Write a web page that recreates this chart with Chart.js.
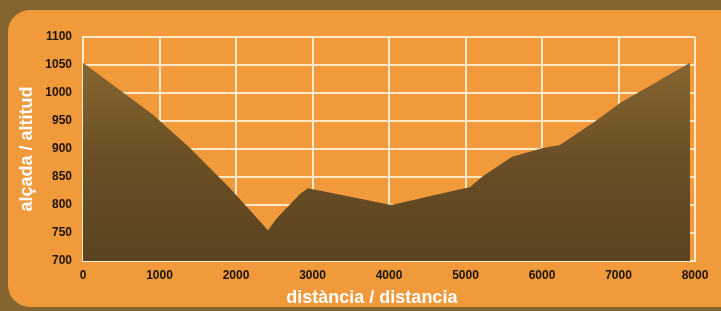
<!DOCTYPE html>
<html>
<head>
<meta charset="utf-8">
<script src="https://cdn.jsdelivr.net/npm/chart.js@4"></script>
<style>
    html, body { margin: 0; padding: 0; background: #85652f; }
    #frame {
        position: absolute; left: 8px; top: 10px; width: 740px; height: 297px;
        background: #f19a3c; border-radius: 22px;
    }
    #wrap { position: absolute; left: 0; top: 0; width: 721px; height: 311px; }
</style>
</head>
<body>
<div id="frame"></div>
<div id="wrap"><canvas id="profileChart" width="721" height="311"></canvas></div>
<script>
// perfil: distància (m) i alçada (m)
var distances = [0, 444, 915, 1399, 1922, 2418, 2536, 2840, 2941, 4030, 5060, 5230, 5608, 6013, 6235, 6719, 7020, 7935];
var altitudes = [1054, 1009, 961, 902, 830, 755, 777, 820, 830, 800, 832, 852, 886, 902, 907, 952, 982, 1054];
var xTicks = [0, 1000, 2000, 3000, 4000, 5000, 6000, 7000, 8000];
var yTicks = [700, 750, 800, 850, 900, 950, 1000, 1050, 1100];

var points = distances.map(function (d, i) {
    return { x: d, y: altitudes[i] };
});

var tickFont = { family: 'Liberation Sans', size: 12, weight: 'bold' };
var titleFont = { family: 'Liberation Sans', size: 18, weight: 'bold' };
var gridColor = 'rgba(255, 236, 205, 0.95)';

// el títol de l'eix X no està centrat sobre l'àrea del gràfic a l'original
var xTitlePlugin = {
    id: 'xTitle',
    afterDraw: function (chart) {
        var c = chart.ctx;
        var area = chart.chartArea;
        c.save();
        c.font = 'bold 18px "Liberation Sans"';
        c.fillStyle = '#ffffff';
        c.textAlign = 'center';
        c.textBaseline = 'middle';
        c.fillText('distància / distancia', area.left + (area.right - area.left) * 0.472, 298);
        c.restore();
    }
};

var ctx = document.getElementById('profileChart').getContext('2d');
new Chart(ctx, {
    type: 'line',
    data: {
        datasets: [{
            data: points,
            borderWidth: 0,
            pointRadius: 0,
            tension: 0,
            fill: 'start',
            backgroundColor: function (context) {
                var area = context.chart.chartArea;
                if (!area) {
                    return '#6b5026';
                }
                var g = context.chart.ctx.createLinearGradient(0, area.top, 0, area.bottom);
                g.addColorStop(0, '#8e6b33');
                g.addColorStop(0.55, '#6a4f25');
                g.addColorStop(1, '#5a4320');
                return g;
            }
        }]
    },
    options: {
        responsive: false,
        animation: false,
        layout: { padding: { left: 16, right: 26, top: 37, bottom: 2 } },
        plugins: {
            legend: { display: false },
            tooltip: { enabled: false }
        },
        scales: {
            x: {
                type: 'linear',
                min: 0,
                max: 8000,
                afterBuildTicks: function (scale) {
                    scale.ticks = xTicks.map(function (v) { return { value: v }; });
                },
                afterFit: function (scale) { scale.height = 48; },
                grid: { color: gridColor, lineWidth: 2, drawTicks: false },
                border: { display: true, color: gridColor, width: 2 },
                ticks: {
                    color: '#1c130a', font: tickFont, padding: 7, maxRotation: 0,
                    callback: function (v) { return String(v); }
                },
                title: { display: false }
            },
            y: {
                min: 700,
                max: 1100,
                afterBuildTicks: function (scale) {
                    scale.ticks = yTicks.map(function (v) { return { value: v }; });
                },
                afterFit: function (scale) { scale.width = 67; },
                grid: { color: gridColor, lineWidth: 2, drawTicks: false },
                border: { display: true, color: gridColor, width: 2 },
                ticks: {
                    color: '#1c130a', font: tickFont, padding: 11,
                    callback: function (v) { return String(v); }
                },
                title: {
                    display: true,
                    text: 'alçada / altitud',
                    color: '#ffffff',
                    font: titleFont,
                    padding: { top: 0, bottom: 0 }
                }
            }
        }
    },
    plugins: [xTitlePlugin]
});
</script>
</body>
</html>
